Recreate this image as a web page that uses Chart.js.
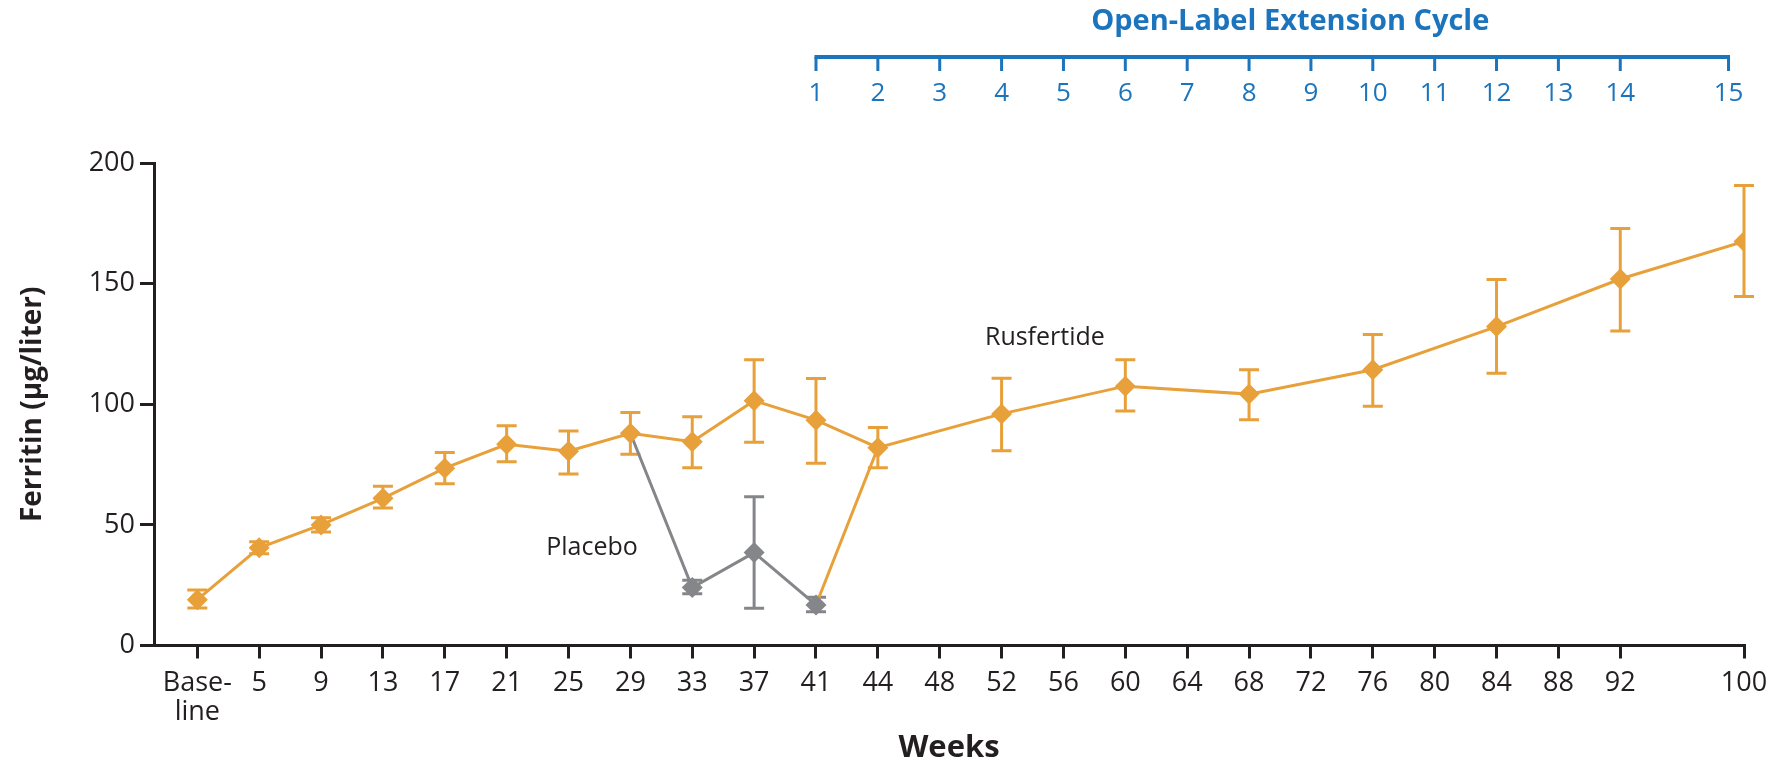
<!DOCTYPE html>
<html>
<head>
<meta charset="utf-8">
<script src="https://cdn.jsdelivr.net/npm/chart.js@4.4.1/dist/chart.umd.min.js"></script>
<style>
html, body { margin: 0; padding: 0; background: #fff; }
#wrap { width: 1785px; height: 764px; }
</style>
</head>
<body>
<div id="wrap"><canvas id="chart"></canvas></div>
<script>
// x positions are "slots": one per tick, week 96 is skipped so 100 sits two slots after 92
const weekLabels = ['Base-line', '5', '9', '13', '17', '21', '25', '29', '33', '37', '41', '44', '48', '52', '56', '60', '64', '68', '72', '76', '80', '84', '88', '92', '100'];
const weekSlots = [0, 1, 2, 3, 4, 5, 6, 7, 8, 9, 10, 11, 12, 13, 14, 15, 16, 17, 18, 19, 20, 21, 22, 23, 25];

// rusfertide points (only the weeks that have a marker)
const rusSlots = [0, 1, 2, 3, 4, 5, 6, 7, 8, 9, 10, 11, 13, 15, 17, 19, 21, 23, 25];
const rusMean = [19, 40.5, 50, 61, 73.5, 83.4, 80.5, 88, 84.5, 101.5, 93.4, 82, 96, 107.5, 104.2, 114.3, 132.2, 151.9, 167.5];
const rusLow = [15.5, 38, 47, 57, 67, 76.2, 71.1, 79.3, 73.7, 84.3, 75.5, 73.7, 80.7, 97.2, 93.6, 99.2, 112.9, 130.4, 144.7];
const rusHigh = [23, 43, 53, 66, 80, 91.1, 88.9, 96.6, 94.8, 118.4, 110.7, 90.4, 110.8, 118.4, 114.3, 128.9, 151.7, 172.8, 190.7];

// placebo branch starts from the week-29 rusfertide point
const placeboSlots = [7, 8, 9, 10];
const placeboMean = [88, 24, 38.5, 16.8];
const placeboLow = [null, 21.5, 15.4, 14];
const placeboHigh = [null, 27, 61.7, 20];

// open-label extension cycles on the top axis
const cycleLabels = ['1', '2', '3', '4', '5', '6', '7', '8', '9', '10', '11', '12', '13', '14', '15'];
const cycleSlots = [10, 11, 12, 13, 14, 15, 16, 17, 18, 19, 20, 21, 22, 23, 24.75];

const noteTexts = ['Rusfertide', 'Placebo'];
const noteSlots = [13.7, 6.38];
const noteValues = [127.4, 40.4];

const orange = '#E8A03A';
const gray = '#848689';
const dark = '#231F20';
const blue = '#1C75BC';
const family = "'Open Sans', 'Noto Sans', sans-serif";

const errorBars = {
	id: 'errorBars',
	beforeDatasetsDraw(chart) {
		const { ctx, scales: { x, y } } = chart;
		const draw = (slots, lo, hi, color) => {
			ctx.save();
			ctx.strokeStyle = color;
			ctx.lineWidth = 3;
			slots.forEach((s, i) => {
				if (lo[i] == null) return;
				const px = x.getPixelForValue(s),
					p1 = y.getPixelForValue(lo[i]),
					p2 = y.getPixelForValue(hi[i]);
				ctx.beginPath();
				ctx.moveTo(px, p1); ctx.lineTo(px, p2);
				ctx.moveTo(px - 10, p1); ctx.lineTo(px + 10, p1);
				ctx.moveTo(px - 10, p2); ctx.lineTo(px + 10, p2);
				ctx.stroke();
			});
			ctx.restore();
		};
		draw(placeboSlots, placeboLow, placeboHigh, gray);
		draw(rusSlots, rusLow, rusHigh, orange);
	}
};

const extras = {
	id: 'extras',
	afterDraw(chart) {
		const { ctx, scales: { x, y } } = chart;
		ctx.save();
		// top axis
		const xs = cycleSlots.map(s => x.getPixelForValue(s));
		const lineY = 57;
		ctx.strokeStyle = blue;
		ctx.lineWidth = 4;
		ctx.beginPath();
		ctx.moveTo(xs[0] - 1.5, lineY);
		ctx.lineTo(xs[xs.length - 1] + 1.5, lineY);
		ctx.stroke();
		ctx.lineWidth = 3;
		ctx.beginPath();
		xs.forEach(px => { ctx.moveTo(px, lineY); ctx.lineTo(px, lineY + 14); });
		ctx.stroke();
		ctx.fillStyle = blue;
		ctx.textAlign = 'center';
		ctx.textBaseline = 'middle';
		ctx.font = `26px ${family}`;
		xs.forEach((px, i) => ctx.fillText(cycleLabels[i], px, 94));
		ctx.font = `bold 29px ${family}`;
		ctx.fillText('Open-Label Extension Cycle', (xs[0] + xs[xs.length - 1]) / 2 + 18, 22);
		// series labels
		ctx.fillStyle = dark;
		ctx.font = `25px ${family}`;
		noteTexts.forEach((t, i) => ctx.fillText(t, x.getPixelForValue(noteSlots[i]), y.getPixelForValue(noteValues[i])));
		ctx.restore();
	}
};

new Chart(document.getElementById('chart'), {
	type: 'line',
	data: {
		datasets: [{
			label: 'Rusfertide',
			data: rusSlots.map((s, i) => ({ x: s, y: rusMean[i] })),
			borderColor: orange,
			backgroundColor: orange,
			borderWidth: 3,
			pointStyle: 'rectRot',
			pointRadius: 10.5,
			pointBorderWidth: 0
		}, {
			label: 'Placebo',
			data: placeboSlots.map((s, i) => ({ x: s, y: placeboMean[i] })),
			borderColor: gray,
			backgroundColor: gray,
			borderWidth: 3,
			pointStyle: 'rectRot',
			pointRadius: placeboSlots.map((s, i) => i === 0 ? 0 : 10.5),
			pointBorderWidth: 0
		}, {
			label: 'switch',
			data: [
				{ x: placeboSlots[3], y: placeboMean[3] },
				{ x: rusSlots[11], y: rusMean[11] }
			],
			borderColor: orange,
			borderWidth: 3,
			pointRadius: 0
		}]
	},
	options: {
		responsive: true,
		maintainAspectRatio: false,
		animation: false,
		devicePixelRatio: 1,
		layout: { padding: { top: 163, right: 41, left: 0, bottom: 0 } },
		plugins: { legend: { display: false }, tooltip: { enabled: false } },
		scales: {
			x: {
				type: 'linear',
				min: -0.7,
				max: 25,
				afterBuildTicks: scale => { scale.ticks = weekSlots.map(v => ({ value: v })); },
				afterFit: scale => { scale.height = 118.5; },
				ticks: {
					autoSkip: false,
					maxRotation: 0,
					padding: 11,
					color: dark,
					font: { family, size: 27, lineHeight: 1.05 },
					callback: v => {
						const lab = weekLabels[weekSlots.indexOf(v)];
						return lab === 'Base-line' ? ['Base-', 'line'] : lab;
					}
				},
				grid: { drawOnChartArea: false, tickLength: 13, lineWidth: 3, color: dark },
				border: { width: 3, color: dark },
				title: { display: true, text: 'Weeks', color: dark, font: { family, size: 31, weight: 'bold', lineHeight: 1 }, padding: { top: 0, bottom: 0 } }
			},
			y: {
				min: 0,
				max: 200,
				afterFit: scale => { scale.width = 154; },
				ticks: { stepSize: 50, padding: 5, color: dark, font: { family, size: 27 } },
				grid: { drawOnChartArea: false, tickLength: 14, lineWidth: 3, color: dark },
				border: { width: 3, color: dark },
				title: { display: true, text: 'Ferritin (µg/liter)', color: dark, font: { family, size: 28, weight: 'bold' }, padding: { top: 16, bottom: 0 } }
			}
		}
	},
	plugins: [errorBars, extras]
});
</script>
</body>
</html>
